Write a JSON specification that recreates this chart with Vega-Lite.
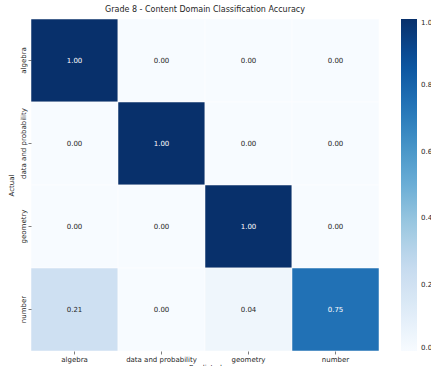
{
  "$schema": "https://vega.github.io/schema/vega-lite/v6.json",
  "autosize": "none",
  "width": 348,
  "height": 332,
  "padding": {"left": 31, "top": 19, "right": 52, "bottom": 15},
  "background": "white",
  "title": {"text": "Grade 8 - Content Domain Classification Accuracy", "fontSize": 8, "fontWeight": "normal", "font": "DejaVu Sans", "color": "#262626", "offset": 5},
  "config": {"view": {"stroke": null}, "font": "DejaVu Sans"},
  "data": {"values": [
    {"actual": "algebra", "predicted": "algebra", "value": 1.00},
    {"actual": "algebra", "predicted": "data and probability", "value": 0.00},
    {"actual": "algebra", "predicted": "geometry", "value": 0.00},
    {"actual": "algebra", "predicted": "number", "value": 0.00},
    {"actual": "data and probability", "predicted": "algebra", "value": 0.00},
    {"actual": "data and probability", "predicted": "data and probability", "value": 1.00},
    {"actual": "data and probability", "predicted": "geometry", "value": 0.00},
    {"actual": "data and probability", "predicted": "number", "value": 0.00},
    {"actual": "geometry", "predicted": "algebra", "value": 0.00},
    {"actual": "geometry", "predicted": "data and probability", "value": 0.00},
    {"actual": "geometry", "predicted": "geometry", "value": 1.00},
    {"actual": "geometry", "predicted": "number", "value": 0.00},
    {"actual": "number", "predicted": "algebra", "value": 0.21},
    {"actual": "number", "predicted": "data and probability", "value": 0.00},
    {"actual": "number", "predicted": "geometry", "value": 0.04},
    {"actual": "number", "predicted": "number", "value": 0.75}
  ]},
  "encoding": {
    "x": {"field": "predicted", "type": "nominal", "sort": ["algebra", "data and probability", "geometry", "number"],
      "scale": {"paddingInner": 0, "paddingOuter": 0},
      "axis": {"title": "Predicted", "labelAngle": 0, "labelFontSize": 7, "titleFontSize": 7, "labelColor": "#262626", "titleColor": "#262626", "titleFontWeight": "normal", "domain": false, "tickSize": 3, "tickColor": "#262626", "tickWidth": 0.6, "labelPadding": 1, "titlePadding": 1}},
    "y": {"field": "actual", "type": "nominal", "sort": ["algebra", "data and probability", "geometry", "number"],
      "scale": {"paddingInner": 0, "paddingOuter": 0},
      "axis": {"title": "Actual", "labelAngle": -90, "labelAlign": "center", "labelBaseline": "bottom", "labelFontSize": 7, "titleFontSize": 7, "labelColor": "#262626", "titleColor": "#262626", "titleFontWeight": "normal", "domain": false, "tickSize": 3, "tickColor": "#262626", "tickWidth": 0.6, "labelPadding": 2, "titlePadding": 5}}
  },
  "layer": [
    {
      "mark": {"type": "rect", "stroke": "white", "strokeWidth": 0.5},
      "encoding": {
        "color": {"field": "value", "type": "quantitative",
          "scale": {"domain": [0, 0.125, 0.25, 0.375, 0.5, 0.625, 0.75, 0.875, 1],
            "range": ["#f7fbff", "#deebf7", "#c6dbef", "#9ecae1", "#6baed6", "#4292c6", "#2171b5", "#08519c", "#08306b"]},
          "legend": {"title": null, "orient": "right", "offset": 22, "gradientLength": 332, "gradientThickness": 16, "gradientStrokeWidth": 0, "values": [0, 0.2, 0.4, 0.6, 0.8, 1.0], "format": ".1f", "labelFontSize": 7, "labelColor": "#262626", "labelOffset": 4, "labelBaseline": "middle", "labelOverlap": false, "padding": 0}}
      }
    },
    {
      "mark": {"type": "text", "fontSize": 7},
      "encoding": {
        "text": {"field": "value", "type": "quantitative", "format": ".2f"},
        "color": {"condition": {"test": "datum.value > 0.5", "value": "white"}, "value": "#262626"}
      }
    }
  ]
}
